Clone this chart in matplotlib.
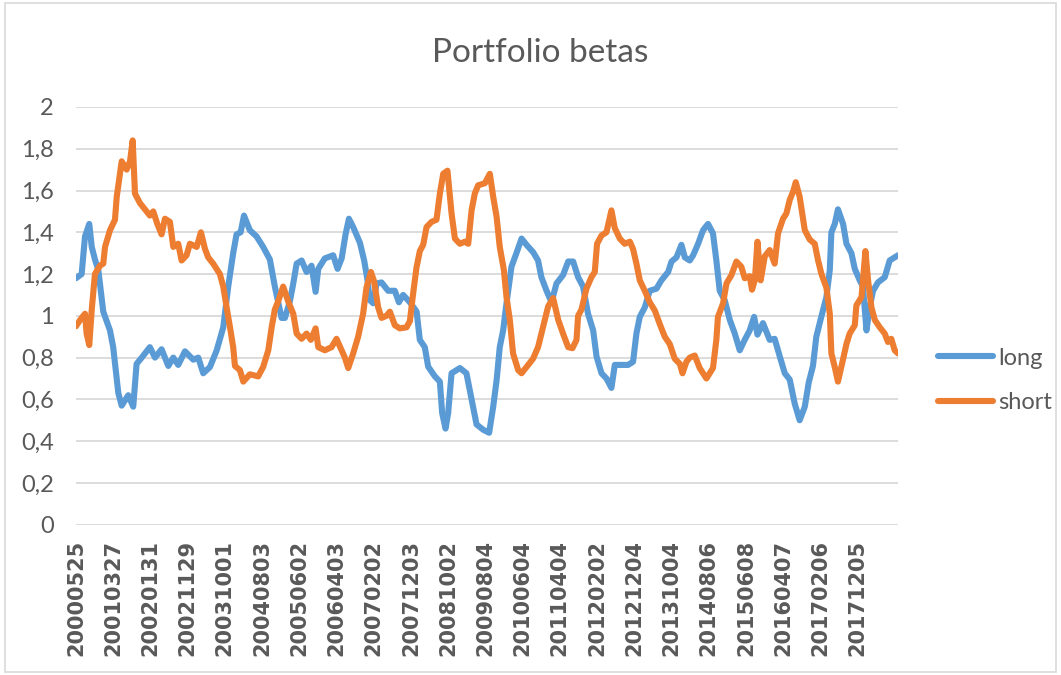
import numpy as np
import matplotlib
matplotlib.use("Agg")
import matplotlib.pyplot as plt
from matplotlib.patches import Rectangle
from matplotlib.ticker import FuncFormatter

# dates shown on the category axis (one label every 210 observations)
tick_labels = ["20000525", "20010327", "20020131", "20021129", "20031001",
               "20040803", "20050602", "20060403", "20070202", "20071203",
               "20081002", "20090804", "20100604", "20110404", "20120202",
               "20121204", "20131004", "20140806", "20150608", "20160407",
               "20170206", "20171205"]
label_step = 210
n_obs = 4638

long_idx = [0, 32, 51, 75, 89, 107, 126, 154, 192, 210, 239, 258, 295, 323, 342,
            371, 417, 446, 483, 521, 549, 577, 615, 662, 690, 718, 756, 794, 831,
            859, 887, 906, 929, 948, 981, 1019, 1056, 1094, 1122, 1160, 1179, 1207,
            1226, 1245, 1273, 1301, 1329, 1352, 1367, 1404, 1451, 1476, 1499, 1521,
            1540, 1564, 1602, 1626, 1645, 1658, 1677, 1696, 1724, 1761, 1799, 1822,
            1846, 1884, 1922, 1940, 1968, 1987, 2025, 2053, 2066, 2085, 2100, 2119,
            2166, 2203, 2232, 2260, 2297, 2331, 2354, 2373, 2391, 2410, 2429, 2457,
            2485, 2514, 2542, 2579, 2607, 2626, 2655, 2683, 2711, 2748, 2777, 2805,
            2833, 2861, 2889, 2918, 2937, 2965, 2993, 3021, 3040, 3078, 3115, 3143,
            3162, 3181, 3209, 3237, 3275, 3303, 3341, 3360, 3388, 3416, 3435, 3463,
            3482, 3510, 3538, 3566, 3594, 3613, 3632, 3660, 3689, 3717, 3745, 3773,
            3801, 3826, 3845, 3876, 3914, 3942, 3971, 3999, 4027, 4055, 4083, 4112,
            4134, 4158, 4177, 4205, 4234, 4253, 4262, 4281, 4299, 4328, 4347, 4375,
            4394, 4422, 4440, 4460, 4478, 4497, 4525, 4563, 4591, 4619, 4638]
long_beta = [1.18, 1.20, 1.38, 1.44, 1.33, 1.27, 1.22, 1.02, 0.93, 0.85, 0.63, 0.57,
             0.62, 0.565, 0.77, 0.80, 0.85, 0.80, 0.84, 0.76, 0.80, 0.765, 0.83, 0.79,
             0.80, 0.725, 0.755, 0.835, 0.945, 1.14, 1.30, 1.39, 1.40, 1.48, 1.41,
             1.38, 1.33, 1.27, 1.14, 0.99, 0.99, 1.07, 1.155, 1.25, 1.265, 1.21, 1.24,
             1.115, 1.225, 1.275, 1.29, 1.225, 1.275, 1.39, 1.465, 1.425, 1.35, 1.265,
             1.17, 1.075, 1.06, 1.155, 1.16, 1.12, 1.12, 1.065, 1.10, 1.065, 1.02,
             0.885, 0.85, 0.757, 0.71, 0.685, 0.535, 0.46, 0.535, 0.725, 0.75, 0.725,
             0.60, 0.48, 0.455, 0.44, 0.565, 0.69, 0.85, 0.93, 1.06, 1.235, 1.30, 1.37,
             1.34, 1.305, 1.265, 1.185, 1.12, 1.065, 1.155, 1.195, 1.26, 1.26, 1.185,
             1.14, 1.01, 0.93, 0.805, 0.725, 0.70, 0.655, 0.765, 0.765, 0.765, 0.78,
             0.915, 0.995, 1.04, 1.12, 1.13, 1.17, 1.21, 1.26, 1.28, 1.34, 1.28, 1.265,
             1.29, 1.345, 1.41, 1.44, 1.395, 1.265, 1.12, 1.075, 0.98, 0.915, 0.835,
             0.885, 0.93, 0.995, 0.91, 0.965, 0.885, 0.89, 0.805, 0.725, 0.695, 0.58,
             0.50, 0.565, 0.68, 0.76, 0.90, 0.995, 1.09, 1.22, 1.40, 1.44, 1.51, 1.44,
             1.345, 1.30, 1.225, 1.17, 1.14, 0.93, 1.04, 1.12, 1.16, 1.185, 1.265,
             1.28, 1.29]

short_idx = [0, 23, 51, 60, 75, 89, 107, 135, 154, 164, 192, 220, 230, 258, 286, 305,
             320, 333, 361, 389, 417, 436, 459, 483, 502, 530, 549, 577, 596, 624,
             643, 681, 705, 728, 746, 774, 812, 831, 850, 869, 887, 897, 925, 944, 981,
             1028, 1056, 1085, 1104, 1122, 1141, 1169, 1197, 1226, 1245, 1273, 1301,
             1325, 1352, 1367, 1404, 1442, 1470, 1499, 1517, 1536, 1564, 1592, 1620,
             1639, 1664, 1682, 1705, 1724, 1752, 1771, 1799, 1827, 1865, 1884, 1902,
             1921, 1940, 1959, 1978, 2006, 2034, 2053, 2072, 2096, 2119, 2138, 2166,
             2194, 2213, 2232, 2250, 2269, 2307, 2335, 2354, 2373, 2391, 2414, 2429,
             2448, 2466, 2495, 2514, 2542, 2579, 2607, 2636, 2664, 2692, 2721, 2748,
             2777, 2801, 2824, 2833, 2852, 2880, 2908, 2927, 2940, 2965, 2993, 3021,
             3040, 3068, 3096, 3125, 3143, 3162, 3181, 3209, 3237, 3266, 3294, 3322,
             3350, 3378, 3407, 3422, 3444, 3463, 3491, 3519, 3557, 3594, 3613, 3622,
             3651, 3670, 3698, 3726, 3754, 3773, 3801, 3814, 3830, 3845, 3863, 3886,
             3914, 3942, 3961, 3989, 4008, 4027, 4046, 4061, 4083, 4112, 4140, 4168,
             4187, 4206, 4234, 4253, 4262, 4281, 4299, 4318, 4347, 4365, 4394, 4403,
             4432, 4454, 4469, 4488, 4507, 4535, 4563, 4581, 4600, 4619, 4638]
short_beta = [0.95, 0.98, 1.01, 0.915, 0.86, 1.03, 1.20, 1.24, 1.25, 1.33, 1.41, 1.46,
              1.57, 1.74, 1.70, 1.74, 1.84, 1.585, 1.54, 1.51, 1.48, 1.50, 1.44, 1.39,
              1.465, 1.45, 1.33, 1.345, 1.265, 1.29, 1.345, 1.33, 1.40, 1.32, 1.28,
              1.25, 1.20, 1.14, 1.04, 0.945, 0.85, 0.76, 0.74, 0.685, 0.72, 0.71,
              0.755, 0.835, 0.945, 1.03, 1.07, 1.14, 1.07, 1.01, 0.915, 0.89, 0.915,
              0.885, 0.94, 0.85, 0.835, 0.85, 0.89, 0.835, 0.80, 0.75, 0.82, 0.90,
              1.01, 1.135, 1.21, 1.165, 1.04, 0.99, 1.0, 1.02, 0.955, 0.94, 0.945,
              0.975, 1.105, 1.23, 1.31, 1.34, 1.425, 1.45, 1.46, 1.585, 1.68, 1.695,
              1.49, 1.37, 1.345, 1.355, 1.345, 1.505, 1.585, 1.625, 1.635, 1.68, 1.57,
              1.475, 1.33, 1.22, 1.09, 0.98, 0.82, 0.74, 0.725, 0.755, 0.795, 0.85,
              0.95, 1.045, 1.085, 0.98, 0.915, 0.85, 0.845, 0.885, 1.0, 1.03, 1.13,
              1.185, 1.21, 1.345, 1.385, 1.40, 1.505, 1.42, 1.37, 1.345, 1.355, 1.32,
              1.25, 1.17, 1.12, 1.065, 1.025, 0.96, 0.90, 0.865, 0.795, 0.77, 0.725,
              0.78, 0.80, 0.81, 0.75, 0.70, 0.75, 0.885, 0.995, 1.06, 1.155, 1.195,
              1.26, 1.235, 1.18, 1.19, 1.125, 1.17, 1.355, 1.17, 1.285, 1.315, 1.25,
              1.395, 1.465, 1.49, 1.555, 1.595, 1.64, 1.57, 1.41, 1.365, 1.345, 1.265,
              1.20, 1.135, 1.01, 0.82, 0.755, 0.685, 0.755, 0.865, 0.915, 0.955, 1.05,
              1.09, 1.31, 1.17, 1.04, 0.98, 0.945, 0.915, 0.875, 0.89, 0.835, 0.82]

blue = "#5B9BD5"
orange = "#ED7D31"
grey_txt = "#595959"

fig = plt.figure(figsize=(10.61, 6.75), dpi=100)
fig.patches.append(Rectangle((0.005, 0.004), 0.99, 0.992, transform=fig.transFigure,
                             fill=False, edgecolor="#d9d9d9", linewidth=1.2))

ax = fig.add_axes([0.0716, 0.2227, 0.7748, 0.6188])
ax.plot(long_idx, long_beta, color=blue, lw=4.4, solid_joinstyle="round",
        solid_capstyle="round", label="long")
ax.plot(short_idx, short_beta, color=orange, lw=4.4, solid_joinstyle="round",
        solid_capstyle="round", label="short")

ax.set_xlim(0, n_obs)
ax.set_ylim(0, 2)
ax.set_yticks(np.arange(0, 2.01, 0.2))
ax.yaxis.set_major_formatter(FuncFormatter(lambda v, p: f"{v:.1f}".rstrip("0").rstrip(".").replace(".", ",")))
ax.set_xticks(np.arange(len(tick_labels)) * label_step)
ax.set_xticklabels(tick_labels, rotation=90, fontsize=15, fontweight="bold",
                   color=grey_txt, family="DejaVu Sans")
ax.tick_params(axis="x", length=0, pad=11)
ax.tick_params(axis="y", length=0, pad=16, labelsize=17, labelcolor=grey_txt)
for lab in ax.get_yticklabels():
    lab.set_family("Lato")

ax.grid(axis="y", color="#d9d9d9", lw=1.3)
ax.set_axisbelow(True)
for s in ax.spines.values():
    s.set_visible(False)

fig.text(0.509, 0.921, "Portfolio betas", ha="center", va="center",
         fontsize=24, color=grey_txt, family="Lato")

fig.legend(loc="upper left", bbox_to_anchor=(0.884, 0.485), frameon=False,
           borderpad=0, borderaxespad=0, handlelength=2.35, handletextpad=0.2,
           labelspacing=1.0, prop={"family": "Lato", "size": 17},
           labelcolor=grey_txt)

fig.savefig("out.png", dpi=100)
